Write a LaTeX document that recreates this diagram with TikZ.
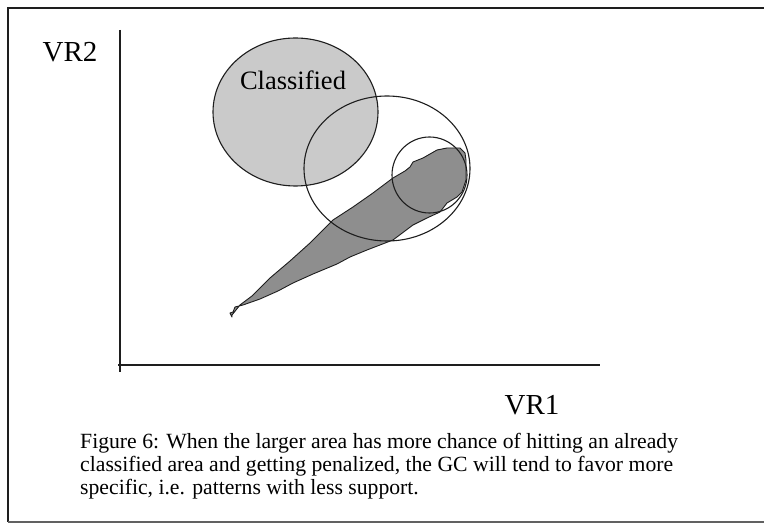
\documentclass[tikz,border=0pt]{standalone}
\usepackage{fontspec}
\setmainfont{Liberation Serif}
\definecolor{lightfill}{RGB}{202,202,202}
\definecolor{darkfill}{RGB}{142,142,142}
\definecolor{inkline}{RGB}{30,30,30}
\begin{document}
\begin{tikzpicture}[x=1pt,y=-1pt,
  frameline/.style={draw=inkline,line width=1.8pt},
  axisline/.style={draw=inkline,line width=1.4pt},
  outline/.style={draw=inkline,line width=1.1pt},
  bigtext/.style={font=\fontsize{29}{29}\selectfont,inner sep=0pt},
  midtext/.style={font=\fontsize{26.5}{26.5}\selectfont,inner sep=0pt},
  captext/.style={font=\fontsize{21.7}{23}\selectfont,inner sep=0pt,anchor=base west}]
\useasboundingbox (0,0) rectangle (764,526);
\fill[white] (0,0) rectangle (764,526);
% frame
\coordinate (ftr) at (764,8);
\coordinate (ftl) at (8,8);
\coordinate (fbl) at (8,522);
\coordinate (fbr) at (764,522);
\draw[frameline] (ftr) -- (ftl) -- (fbl);
\draw[draw=inkline!70,line width=1.4pt] (fbl) -- (fbr);
% axes
\coordinate (ytop) at (120,30);
\coordinate (ybot) at (120,372);
\coordinate (xl) at (118,365);
\coordinate (xr) at (600,365);
\draw[axisline] (ytop) -- (ybot);
\draw[axisline] (xl) -- (xr);
\node[bigtext] (vr2) at (70,52) {VR2};
\node[bigtext] (vr1) at (532,405) {VR1};
% classified ellipse
\draw[outline,fill=lightfill] (295.5,112) ellipse [x radius=82.5, y radius=74];
\node[midtext] (cls) at (293,80) {Classified};
% blob
\draw[draw=inkline,line width=0.9pt,fill=darkfill,line join=round]
 (232,315) -- (240,305) -- (252,296) -- (270,278) -- (290,261) -- (310,243)
 -- (333,220) -- (353,207) -- (373,193) -- (393,178) -- (405,171) -- (410,167)
 -- (413,162) -- (423,158) -- (430,154) -- (437,150) -- (447,148) -- (460,148)
 -- (465,153) -- (466,160) -- (466,170) -- (466,180) -- (462,192) -- (457,197)
 -- (447,203) -- (440,212) -- (427,218) -- (413,225) -- (393,240) -- (367,250)
 -- (350,257) -- (337,264) -- (313,274) -- (293,283) -- (278,291) -- (260,299)
 -- (243,305) -- (235,307) -- (233,312) -- (230,313) -- (232,317) -- cycle;
% circles
\draw[outline] (387,168.5) ellipse [x radius=83, y radius=72.5];
\draw[outline] (429.5,175) ellipse [x radius=37.5, y radius=38];
% caption
\node[captext] (cap1) at (80,449) {Figure 6: When the larger area has more chance of hitting an already};
\node[captext] (cap2) at (80,472) {classified area and getting penalized, the GC will tend to favor more};
\node[captext] (cap3) at (80,495) {specific, i.e. patterns with less support.};
\end{tikzpicture}
\end{document}
